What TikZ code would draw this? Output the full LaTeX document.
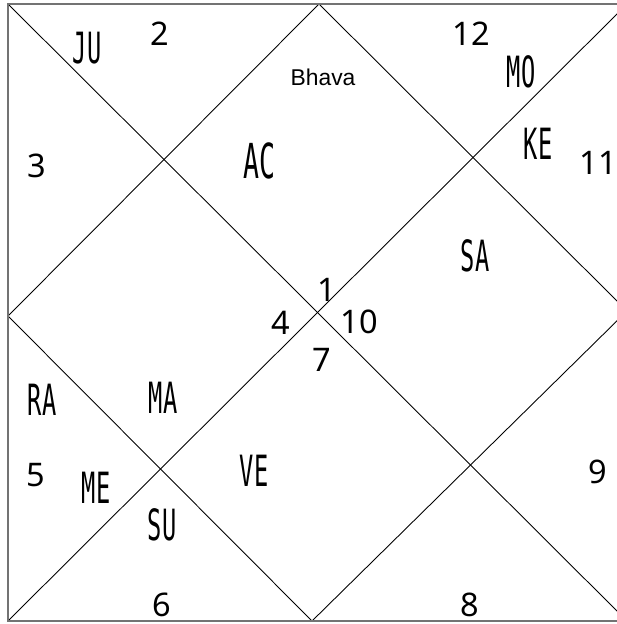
\documentclass[tikz,border=0pt]{standalone}
\usepackage{fontspec}
\usepackage{tikz}
\usetikzlibrary{positioning}
\newfontfamily\housefont{Noto Sans}
\newfontfamily\bhavafont{Liberation Sans}
\newfontfamily\planetfont{DejaVu Sans Mono}[FakeStretch=0.55]

\begin{document}
\begin{tikzpicture}[
    x=0.02cm, y=-0.02cm,
    house/.style={font=\housefont\fontsize{18.5}{20}\selectfont, inner sep=0pt},
    planet/.style={font=\planetfont\fontsize{24.5}{26}\selectfont, inner sep=0pt},
    title/.style={font=\bhavafont\fontsize{13}{15}\selectfont, inner sep=0pt},
    frame/.style={draw=black!55, line width=1.1pt},
    divider/.style={draw=black, line width=0.5pt}
]
\useasboundingbox (0,0) rectangle (617,624);
\clip (0,0) rectangle (617,624);

% outer square
\coordinate (tl) at (8,4);
\coordinate (tr) at (627,4);
\coordinate (br) at (627,621);
\coordinate (bl) at (8,621);
% diamond corners
\coordinate (top) at (319,4);
\coordinate (rgt) at (627,311);
\coordinate (bot) at (312,621);
\coordinate (lft) at (8,316);

\draw[divider] (tl) -- (br);
\draw[divider] (tr) -- (bl);
\draw[divider] (top) -- (rgt) -- (bot) -- (lft) -- cycle;
\draw[frame] (tl) -- (tr) -- (br) -- (bl) -- cycle;

% house numbers
\node[house] (h1) at (327,290) {1};
\node[house] (h2) at (160,34) {2};
\node[house] (h3) at (37,166) {3};
\node[house] (h4) at (281,323) {4};
\node[house] (h5) at (36,475) {5};
\node[house] (h6) at (162,605) {6};
\node[house] (h7) at (322,360) {7};
\node[house] (h8) at (470,605) {8};
\node[house] (h9) at (598,472) {9};
\node[house] (h10) at (359,322) {10};
\node[house] (h11) at (598,163) {11};
\node[house] (h12) at (471,34) {12};

\node[title] (bhava) at (323,77) {Bhava};

% planets
\node[planet, scale=1.12] (ac) at (259,161) {AC};
\node[planet] (ju) at (87,48) {JU};
\node[planet] (mo) at (521,72) {MO};
\node[planet] (ke) at (538,144) {KE};
\node[planet] (sa) at (475,256) {SA};
\node[planet] (ra) at (42,400) {RA};
\node[planet] (ma) at (163,398) {MA};
\node[planet] (me) at (96,488) {ME};
\node[planet] (ve) at (254,471) {VE};
\node[planet] (su) at (162,525) {SU};
\end{tikzpicture}
\end{document}
